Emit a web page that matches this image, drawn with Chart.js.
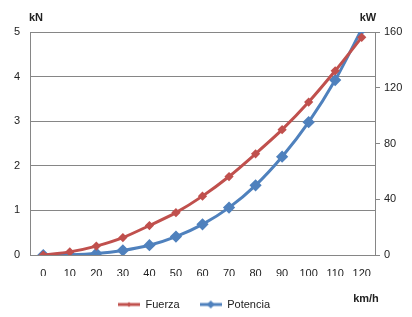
<html>
<head>
	<title>Fuerza y Potencia</title>
	<style>
		body { margin: 0; background: #fff; }
		#wrap { width: 412px; height: 317px; }
	</style>
</head>
<body>
	<div id="wrap"><canvas id="chart" width="412" height="317"></canvas></div>
	<script src="https://cdn.jsdelivr.net/npm/chart.js"></script>
	<script>
		// km/h
		const speeds = ['0', '10', '20', '30', '40', '50', '60', '70', '80', '90', '100', '110', '120'];
		// kN
		const fuerza = [0, 0.07, 0.2, 0.39, 0.66, 0.95, 1.32, 1.76, 2.27, 2.81, 3.43, 4.13, 4.88];
		// kW
		const potencia = [0, 0.2, 1.1, 3.3, 7.0, 13.2, 22, 34, 50, 70.5, 95.3, 125.5, 162];
		const leftTicks = [0, 1, 2, 3, 4, 5];
		const rightTicks = [0, 40, 80, 120, 160];

		const red = '#C0504D';
		const blue = '#4F81BD';
		const gray = '#868686';
		const font = 'Liberation Sans, Arial, sans-serif';

		// legend sample: line with marker, like the spreadsheet legend
		function legendIcon(color, r) {
			const c = document.createElement('canvas');
			c.width = 22; c.height = 10;
			const g = c.getContext('2d');
			g.strokeStyle = color; g.lineWidth = 3;
			g.beginPath(); g.moveTo(0, 5); g.lineTo(22, 5); g.stroke();
			g.fillStyle = color;
			g.beginPath();
			g.moveTo(11, 5 - r); g.lineTo(11 + r, 5); g.lineTo(11, 5 + r); g.lineTo(11 - r, 5);
			g.closePath(); g.fill();
			return c;
		}
		const icons = [legendIcon(red, 2.5), legendIcon(blue, 4)];

		const axisTitles = {
			id: 'axisTitles',
			afterLayout(chart) {
				// legend sits a bit left of centre and lower in the original
				chart.legend.left -= 12;
				chart.legend.right -= 12;
				chart.legend.top += 3;
				chart.legend.bottom += 3;
			},
			afterDraw(chart) {
				const ctx = chart.ctx;
				ctx.save();
				ctx.fillStyle = '#222';
				ctx.font = 'bold 11px ' + font;
				ctx.textAlign = 'center';
				ctx.textBaseline = 'middle';
				ctx.fillText('kN', 36, 18);
				ctx.fillText('kW', 368, 18);
				ctx.fillText('km/h', 366, 299);
				ctx.restore();
			}
		};

		new Chart(document.getElementById('chart'), {
			type: 'line',
			data: {
				labels: speeds,
				datasets: [{
					label: 'Fuerza',
					data: fuerza,
					yAxisID: 'y',
					borderColor: red,
					backgroundColor: red,
					borderWidth: 3,
					pointStyle: 'rectRot',
					pointRadius: 2.5,
					tension: 0.25
				}, {
					label: 'Potencia',
					data: potencia,
					yAxisID: 'y1',
					borderColor: blue,
					backgroundColor: blue,
					borderWidth: 3,
					pointStyle: 'rectRot',
					pointRadius: 4,
					tension: 0.25
				}]
			},
			options: {
				responsive: false,
				animation: false,
				layout: { padding: { top: 32, left: 0, right: 0, bottom: 0 } },
				plugins: {
					tooltip: { enabled: false },
					legend: {
						position: 'bottom',
						labels: {
							usePointStyle: true,
							pointStyleWidth: 22,
							font: { family: font, size: 11 },
							color: '#222',
							padding: 20,
							generateLabels(chart) {
								const items = Chart.defaults.plugins.legend.labels.generateLabels(chart);
								items.forEach((it, i) => { it.pointStyle = icons[i]; });
								return items;
							}
						}
					}
				},
				scales: {
					x: {
						offset: true,
						grid: { drawOnChartArea: false, drawTicks: false },
						border: { color: gray },
						ticks: { color: '#222', font: { family: font, size: 11 }, padding: 12, maxRotation: 0 },
						afterFit(scale) { scale.height = 21; }
					},
					y: {
						position: 'left',
						min: 0, max: 5,
						afterBuildTicks(scale) { scale.ticks = leftTicks.map(v => ({ value: v })); },
						grid: { color: gray, tickLength: 0 },
						border: { color: gray },
						ticks: { color: '#222', font: { family: font, size: 11 }, padding: 10 },
						afterFit(scale) { scale.width = 30; }
					},
					y1: {
						position: 'right',
						min: 0, max: 160,
						afterBuildTicks(scale) { scale.ticks = rightTicks.map(v => ({ value: v })); },
						grid: { drawOnChartArea: false, color: gray, tickLength: 5 },
						border: { color: gray },
						ticks: { color: '#222', font: { family: font, size: 11 }, padding: 4 },
						afterFit(scale) { scale.width = 37; }
					}
				}
			},
			plugins: [axisTitles]
		});
	</script>
</body>
</html>
